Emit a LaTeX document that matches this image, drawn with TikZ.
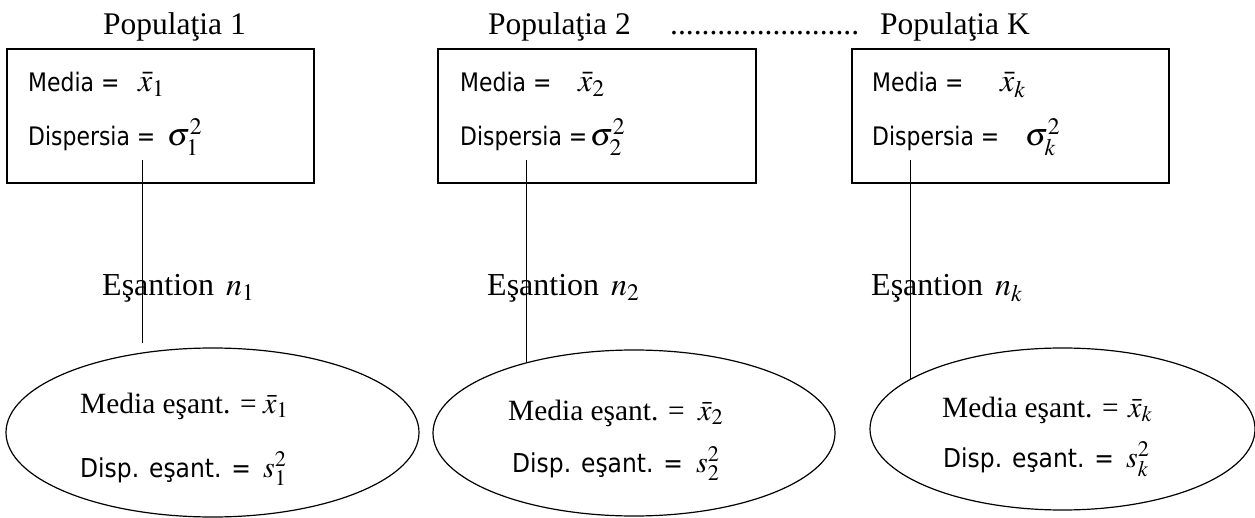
\documentclass[tikz,border=0pt]{standalone}
\usepackage{mathptmx}
\usepackage[no-math]{fontspec}
\setmainfont{Liberation Serif}
\newfontfamily\sansf[FakeStretch=0.86]{DejaVu Sans}
\newfontfamily\sansw[FakeStretch=0.9]{DejaVu Sans}
\usetikzlibrary{shapes.geometric}
\tikzset{
  popbox/.style={draw, line width=1.2pt, rectangle, inner sep=0pt},
  sampell/.style={draw, line width=1.2pt, ellipse, inner sep=0pt},
  link/.style={line width=0.9pt},
  headt/.style={anchor=base west, inner sep=0pt, font=\fontsize{31.5}{36}\selectfont},
  samplt/.style={anchor=base west, inner sep=0pt, font=\fontsize{32}{36}\selectfont},
  ellt/.style={anchor=base west, inner sep=0pt, font=\fontsize{29.4}{35}\selectfont},
  sanst/.style={anchor=base west, inner sep=0pt, font=\sansf\fontsize{25.5}{30}\selectfont},
  sansel/.style={anchor=base west, inner sep=0pt, font=\sansw\fontsize{26}{30}\selectfont},
  matht/.style={anchor=base west, inner sep=0pt, font=\fontsize{32}{36}\selectfont},
  mathe/.style={anchor=base west, inner sep=0pt, font=\fontsize{30}{36}\selectfont}
}
\begin{document}
\begin{tikzpicture}[x=1pt,y=-1pt]
\useasboundingbox (0,0) rectangle (1255,518);
% headings
\node[headt] (h1) at (103,35) {Populaţia 1};
\node[headt] (h2) at (488,35) {Populaţia 2};
\node[headt] (hd) at (670,35) {........................};
\node[headt] (hk) at (880,35) {Populaţia K};
% boxes
\node[popbox, minimum width=307pt, minimum height=134pt] (b1) at (160.5,116) {};
\node[popbox, minimum width=318pt, minimum height=134pt] (b2) at (597,116) {};
\node[popbox, minimum width=317pt, minimum height=134pt] (b3) at (1010.5,116) {};
% box 1 text
\node[sanst] (m1) at (28,92) {Media =};
\node[matht] (mx1) at (138,92) {$\bar{x}_1$};
\node[sanst] (d1) at (28,146) {Dispersia =};
\node[matht] (ds1) at (167,146) {$\sigma_1^2$};
% box 2 text
\node[sanst] (m2) at (460,92) {Media =};
\node[matht] (mx2) at (578,92) {$\bar{x}_2$};
\node[sanst] (d2) at (460,146) {Dispersia =};
\node[matht] (ds2) at (590,146) {$\sigma_2^2$};
% box 3 text
\node[sanst] (m3) at (872,92) {Media =};
\node[matht] (mx3) at (1000,92) {$\bar{x}_k$};
\node[sanst] (d3) at (872,146) {Dispersia =};
\node[matht] (ds3) at (1025,146) {$\sigma_k^2$};
% ellipses
\node[sampell, minimum width=413pt, minimum height=169pt] (e1) at (212.5,432.5) {};
\node[sampell, minimum width=402pt, minimum height=166pt] (e2) at (634,433) {};
\node[sampell, minimum width=385pt, minimum height=162pt] (e3) at (1062.5,429) {};
% ellipse texts
\node[ellt] (em1) at (80,413) {Media eşant. =};
\node[mathe] (emx1) at (263,413) {$\bar{x}_1$};
\node[sansel] (ed1) at (80,477) {Disp. eşant. =};
\node[mathe] (eds1) at (263,477) {$s_1^2$};
\node[ellt] (em2) at (508,420) {Media eşant. =};
\node[mathe] (emx2) at (698,420) {$\bar{x}_2$};
\node[sansel] (ed2) at (512,472) {Disp. eşant. =};
\node[mathe] (eds2) at (696,472) {$s_2^2$};
\node[ellt] (em3) at (942,417) {Media eşant. =};
\node[mathe] (emx3) at (1128,417) {$\bar{x}_k$};
\node[sansel] (ed3) at (943,467) {Disp. eşant. =};
\node[mathe] (eds3) at (1126,467) {$s_k^2$};
% sample labels
\node[samplt] (s1) at (102,296) {Eşantion};
\node[matht] (n1) at (226,296) {$n_1$};
\node[samplt] (s2) at (487,296) {Eşantion};
\node[matht] (n2) at (611,296) {$n_2$};
\node[samplt] (s3) at (871,296) {Eşantion};
\node[matht] (n3) at (995,296) {$n_k$};
% connectors
\coordinate (a1) at (142,160);
\coordinate (z1) at (142,343);
\coordinate (a2) at (526,160);
\coordinate (z2) at (526,363);
\coordinate (a3) at (910,160);
\coordinate (z3) at (910,380);
\draw[link] (a1) -- (z1);
\draw[link] (a2) -- (z2);
\draw[link] (a3) -- (z3);
\end{tikzpicture}
\end{document}
